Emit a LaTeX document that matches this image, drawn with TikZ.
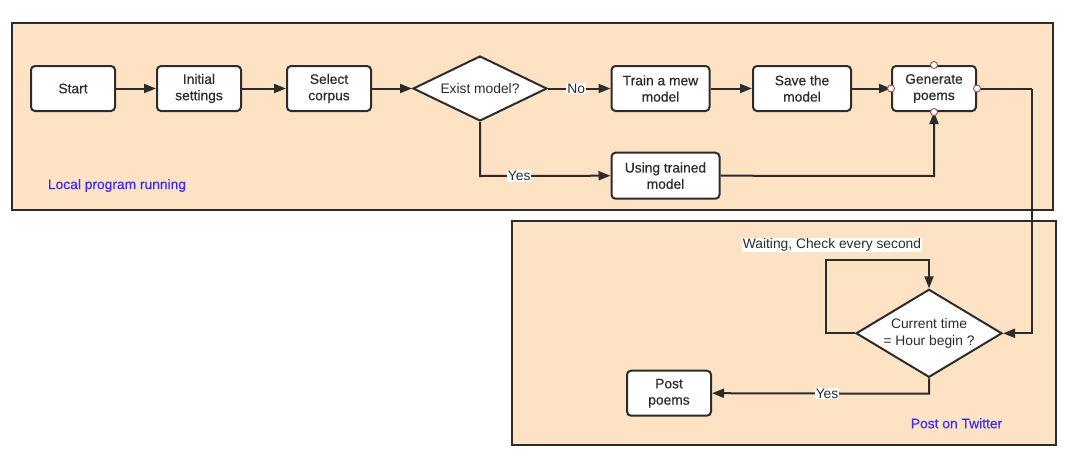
\documentclass[tikz,border=0pt]{standalone}
\usepackage{fontspec}
\setmainfont{Liberation Sans}
\newfontfamily\medfont{Liberation Sans}[FakeBold=0.45]
\usetikzlibrary{shapes.geometric,arrows.meta}
\definecolor{panel}{RGB}{253,226,196}
\definecolor{ink}{RGB}{44,44,44}
\definecolor{note}{RGB}{58,44,250}
\definecolor{handle}{RGB}{170,70,80}
\tikzset{
  every node/.style={font=\fontsize{13.8}{16.3}\selectfont, text=ink},
  panelbox/.style={draw=ink, line width=2pt, fill=panel},
  stepbox/.style={draw=ink, line width=2pt, fill=white, rounded corners=4pt,
    minimum height=45pt, align=center, inner sep=0pt,
    font=\fontsize{13.8}{16.3}\medfont},
  decision/.style={draw=ink, line width=2pt, fill=white, shape=diamond,
    inner sep=0pt, align=center},
  flow/.style={draw=ink, line width=2pt, -{Triangle[length=12pt,width=9pt]}},
  plainflow/.style={draw=ink, line width=2pt},
  tag/.style={fill=white, inner sep=1pt},
  group/.style={text=note, font=\fontsize{13.8}{16.3}\medfont},
  grip/.style={circle, draw=handle, fill=white, line width=0.9pt, minimum size=7pt, inner sep=0pt},
}
\begin{document}
\begin{tikzpicture}[x=1pt,y=-1pt]
\useasboundingbox (0,0) rectangle (1077,464);

% group panels
\draw[panelbox] (12,23) rectangle (1053,209.5);
\draw[panelbox] (512,221) rectangle (1056,445);

% local program steps
\node[stepbox, minimum width=84pt] (start) at (73,88.5) {Start};
\node[stepbox, minimum width=84pt] (init) at (199,88.5) {Initial\\settings};
\node[stepbox, minimum width=84pt] (corpus) at (329,88.5) {Select\\corpus};
\node[decision, shape aspect=2.06, minimum width=134pt, minimum height=65pt] (exist) at (480,88.5) {Exist model?};
\node[stepbox, minimum width=98pt] (train) at (660.5,88.5) {Train a mew\\model};
\node[stepbox, minimum width=98pt] (save) at (802,88.5) {Save the\\model};
\node[stepbox, minimum width=84pt] (gen) at (934,88.5) {Generate\\poems};
\node[stepbox, minimum width=108pt, minimum height=46pt] (using) at (665.5,175.7) {Using trained\\model};

% posting steps
\node[decision, shape aspect=1.66, minimum width=146pt, minimum height=88pt] (hour) at (929,333.3) {Current time\\= Hour begin ?};
\node[stepbox, minimum width=84pt] (post) at (669,393.2) {Post\\poems};

% bend points
\coordinate (yesbend) at (480,176);
\coordinate (usebend) at (934,176);
\coordinate (outtop) at (1032,88.5);
\coordinate (outbot) at (1032,333.3);
\coordinate (loopa) at (826,333.3);
\coordinate (loopb) at (826,259.5);
\coordinate (loopc) at (929,259.5);
\coordinate (downbend) at (929,393.7);

% connectors
\draw[flow] (start.east) -- (init.west);
\draw[flow] (init.east) -- (corpus.west);
\draw[flow] (corpus.east) -- (exist.west);
\draw[flow] (exist.east) -- (train.west) node[tag, pos=0.45] (no) {No};
\draw[flow] (exist.south) -- (yesbend) -- (using.west) node[tag, pos=0.3] (yes1) {Yes};
\draw[flow] (train.east) -- (save.west);
\draw[flow] (save.east) -- (gen.west);
\draw[flow] (using.east) -- (usebend) -- (gen.south);
\draw[plainflow] (gen.east) -- (outtop);
\draw[flow] (outtop) -- (outbot) -- (hour.east);
\draw[flow] (hour.west) -- (loopa) -- (loopb) -- (loopc) -- (hour.north);
\draw[flow] (hour.south) -- (downbend) -- (post.east) node[tag, pos=0.47] (yes2) {Yes};

% labels
\node[tag] (wait) at (832,245) {Waiting, Check every second};
\node[group] (local) at (117,185.5) {Local program running};
\node[group] (twitter) at (956.5,423.3) {Post on Twitter};

% connection handles on the selected step
\node[grip] at (gen.north) {};
\node[grip] at (gen.south) {};
\node[grip] at (gen.west) {};
\node[grip] at (gen.east) {};
\end{tikzpicture}
\end{document}
